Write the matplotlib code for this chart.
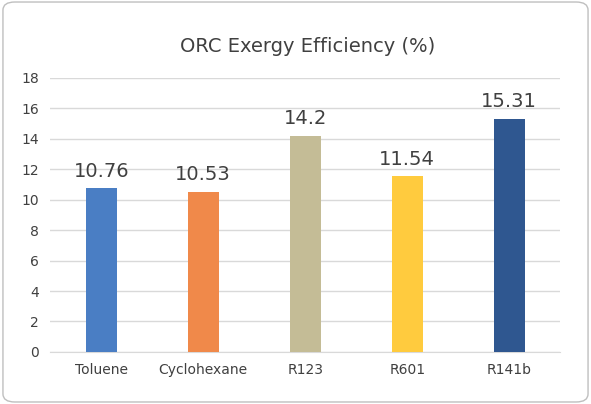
import matplotlib
matplotlib.use("Agg")
import matplotlib.pyplot as plt
from matplotlib.patches import FancyBboxPatch

categories = ["Toluene", "Cyclohexane", "R123", "R601", "R141b"]
values = [10.76, 10.53, 14.2, 11.54, 15.31]
labels = ["10.76", "10.53", "14.2", "11.54", "15.31"]
colors = ["#4A7EC4", "#F0894A", "#C4BC96", "#FFCB3E", "#2F5790"]

fig = plt.figure(figsize=(5.91, 4.04), dpi=100)
fig.patches.append(FancyBboxPatch((0.005, 0.005), 0.99, 0.99, boxstyle="round,pad=0,rounding_size=0.02",
                                  transform=fig.transFigure, fc="white", ec="#BFBFBF", lw=1, zorder=-10))
ax = fig.add_axes([0.085, 0.129, 0.863, 0.678])
x = range(len(categories))
ax.bar(x, values, width=0.3, color=colors, zorder=3)
for i, (v, l) in enumerate(zip(values, labels)):
    ax.text(i, v + 0.5, l, ha="center", va="bottom", fontsize=14, color="#404040")
ax.set_ylim(0, 18)
ax.set_yticks(range(0, 19, 2))
ax.set_xlim(-0.5, 4.5)
ax.set_xticks(list(x))
ax.set_xticklabels(categories)
ax.grid(axis="y", color="#D9D9D9", lw=1, zorder=0)
for s in ["top", "right", "left"]:
    ax.spines[s].set_visible(False)
ax.spines["bottom"].set_color("#D9D9D9")
ax.tick_params(length=0, labelsize=10, colors="#404040", pad=8)
ax.set_facecolor("none")
fig.text(0.52, 0.885, "ORC Exergy Efficiency (%)", ha="center", va="center", fontsize=14, color="#404040")
fig.savefig("out.png", dpi=100)
